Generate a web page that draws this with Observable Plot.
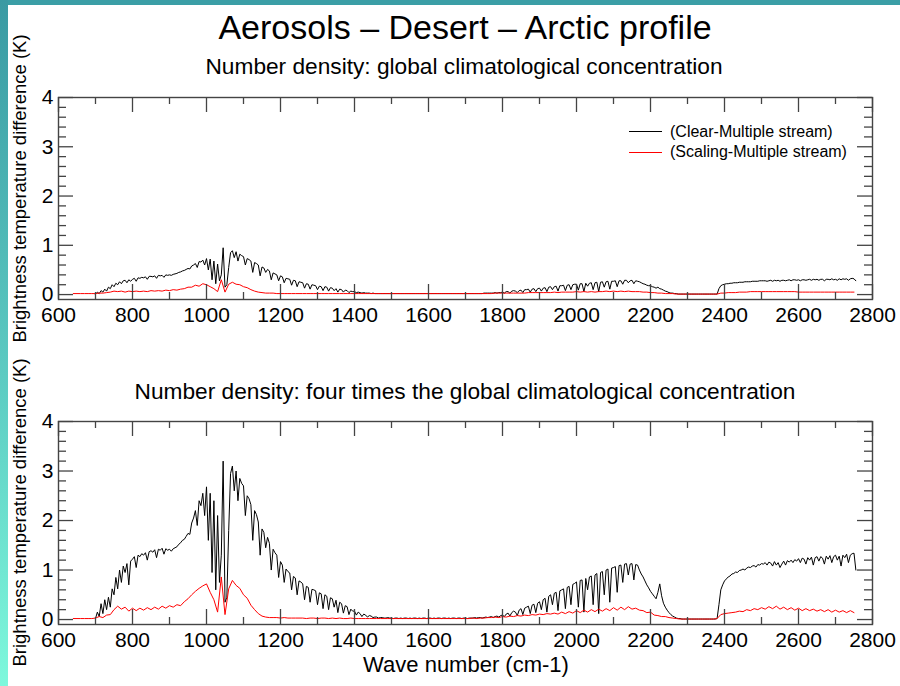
<!DOCTYPE html>
<html><head><meta charset="utf-8">
<script src="https://cdn.jsdelivr.net/npm/d3@7"></script>
<script src="https://cdn.jsdelivr.net/npm/@observablehq/plot@0.6"></script>
<style>
body{margin:0;background:#fff;}
#page{position:relative;width:900px;height:686px;overflow:hidden;background:#fff;font-family:"Liberation Sans",Arial,Helvetica,sans-serif;color:#000;}
#bandTop{position:absolute;left:0;top:0;width:900px;height:5px;background:#3b9ea6;}
#bandLeft{position:absolute;left:0;top:0;width:8px;height:686px;background:linear-gradient(to bottom,#3a9aa3,#5ccbc2 55%,#7ef8dc);}
.t{position:absolute;line-height:1;white-space:nowrap;transform:translateX(-50%);}
.leg{position:absolute;line-height:1;white-space:nowrap;font-size:16px;}
.legline{position:absolute;height:1px;width:33px;}
.panel{position:absolute;left:0;}
</style></head>
<body>
<div id="page">
  <div id="bandTop"></div>
  <div id="bandLeft"></div>
  <div class="t" style="left:465px;top:10px;font-size:34px;">Aerosols – Desert – Arctic profile</div>
  <div class="t" style="left:464px;top:55px;font-size:22.7px;">Number density: global climatological concentration</div>
  <div class="t" style="left:465px;top:380px;font-size:22.7px;">Number density: four times the global climatological concentration</div>
  <div class="t" style="left:466px;top:654px;font-size:22px;">Wave number (cm-1)</div>
  <div id="p1" class="panel" style="top:0px;"></div>
  <div id="p2" class="panel" style="top:330px;"></div>
  <div class="legline" style="left:629px;top:131px;background:#000;"></div>
  <div class="leg" style="left:670px;top:123.5px;">(Clear-Multiple stream)</div>
  <div class="legline" style="left:629px;top:152px;background:#ff0000;"></div>
  <div class="leg" style="left:670px;top:144px;">(Scaling-Multiple stream)</div>
</div>
<script>
// ---- tick values ----
const xTicks = [600, 800, 1000, 1200, 1400, 1600, 1800, 2000, 2200, 2400, 2600, 2800];
const xMinorTicks = [700, 900, 1100, 1300, 1500, 1700, 1900, 2100, 2300, 2500, 2700];
const yTicks = [0, 1, 2, 3, 4];
const yMinorTicks = [0.2,0.4,0.6,0.8,1.2,1.4,1.6,1.8,2.2,2.4,2.6,2.8,3.2,3.4,3.6,3.8];
const yLabel = "Brightness temperature difference (K)";

// ---- sampling of the spectra (wave number, cm-1) ----
const BLACK_START = 700, BLACK_STEP = 5;   // Clear-Multiple stream
const RED_START = 640, RED_STEP = 10;      // Scaling-Multiple stream

// top panel: global climatological concentration
const blackTop = [
0.01,0.05,0.02,0.08,0.05,0.11,0.07,0.15,0.12,0.2,0.16,0.23,0.2,0.26,0.22,0.28,0.29,0.24,0.3,0.27,
0.31,0.33,0.27,0.34,0.33,0.35,0.34,0.36,0.31,0.37,0.37,0.36,0.38,0.33,0.39,0.38,0.39,0.35,0.4,0.39,
0.4,0.39,0.41,0.42,0.43,0.45,0.46,0.48,0.49,0.51,0.53,0.52,0.58,0.6,0.63,0.55,0.67,0.66,0.7,0.6,
0.73,0.5,0.72,0.3,0.68,0.22,0.62,0.28,0.4,0.95,0.15,0.2,0.55,0.85,0.89,0.75,0.87,0.68,0.82,0.79,
0.77,0.6,0.73,0.71,0.68,0.45,0.65,0.63,0.6,0.38,0.56,0.54,0.45,0.51,0.48,0.3,0.44,0.42,0.4,0.28,
0.38,0.36,0.24,0.33,0.32,0.31,0.19,0.29,0.28,0.16,0.26,0.25,0.24,0.13,0.22,0.21,0.11,0.2,0.19,0.18,
0.1,0.17,0.16,0.08,0.16,0.15,0.07,0.14,0.13,0.08,0.12,0.05,0.11,0.1,0.05,0.09,0.08,0.04,0.07,0.06,
0.06,0.04,0.05,0.04,0.03,0.04,0.03,0.03,0.03,0.02,0.03,0.02,0.02,0.02,0.02,0.02,0.02,0.02,0.02,0.02,
0.02,0.02,0.02,0.02,0.02,0.02,0.02,0.02,0.02,0.02,0.02,0.02,0.02,0.02,0.02,0.02,0.02,0.02,0.02,0.02,
0.02,0.02,0.02,0.02,0.02,0.02,0.02,0.02,0.02,0.02,0.02,0.02,0.02,0.02,0.02,0.02,0.02,0.02,0.02,0.02,
0.02,0.02,0.02,0.02,0.02,0.02,0.02,0.02,0.02,0.02,0.03,0.03,0.03,0.03,0.03,0.03,0.04,0.03,0.04,0.04,
0.05,0.03,0.06,0.06,0.03,0.07,0.08,0.07,0.04,0.08,0.09,0.04,0.1,0.1,0.11,0.05,0.11,0.12,0.06,0.12,
0.13,0.07,0.13,0.14,0.06,0.15,0.16,0.1,0.16,0.17,0.07,0.18,0.18,0.19,0.08,0.19,0.2,0.1,0.2,0.21,
0.21,0.09,0.22,0.22,0.06,0.23,0.17,0.23,0.24,0.1,0.24,0.25,0.06,0.25,0.26,0.15,0.26,0.27,0.11,0.27,
0.27,0.28,0.16,0.28,0.28,0.21,0.29,0.29,0.24,0.28,0.29,0.22,0.28,0.27,0.26,0.24,0.22,0.21,0.19,0.18,
0.18,0.16,0.15,0.13,0.15,0.12,0.11,0.09,0.07,0.06,0.04,0.03,0.03,0.02,0.02,0.01,0.01,0.01,0.01,0.01,
0.01,0.01,0.01,0.01,0.01,0.01,0.01,0.01,0.01,0.01,0.01,0.01,0.01,0.01,0.01,0.01,0.01,0.12,0.18,0.2,
0.21,0.22,0.22,0.23,0.23,0.24,0.24,0.24,0.25,0.25,0.25,0.26,0.26,0.26,0.26,0.27,0.27,0.27,0.27,0.28,
0.28,0.28,0.28,0.27,0.28,0.29,0.27,0.29,0.28,0.29,0.27,0.29,0.29,0.28,0.29,0.3,0.28,0.3,0.3,0.29,
0.3,0.28,0.3,0.3,0.29,0.3,0.31,0.29,0.31,0.3,0.31,0.29,0.31,0.31,0.28,0.31,0.31,0.3,0.32,0.3,
0.31,0.29,0.32,0.3,0.32,0.31,0.32,0.29,0.32,0.33,0.32,0.28
];
const redTop = [
0.02,0.02,0.02,0.02,0.02,0.02,0.02,0.03,0.03,0.04,
0.05,0.07,0.06,0.07,0.05,0.07,0.06,0.07,0.06,0.07,
0.06,0.08,0.07,0.08,0.07,0.09,0.08,0.1,0.09,0.11,
0.12,0.15,0.15,0.19,0.17,0.22,0.2,0.16,0.12,0.06,
0.3,0.05,0.21,0.25,0.21,0.2,0.16,0.14,0.1,0.07,
0.05,0.04,0.03,0.03,0.03,0.02,0.02,0.02,0.02,0.02,
0.02,0.02,0.02,0.02,0.02,0.02,0.02,0.02,0.02,0.02,
0.02,0.02,0.02,0.02,0.02,0.02,0.02,0.02,0.02,0.02,
0.02,0.02,0.02,0.02,0.02,0.02,0.02,0.02,0.02,0.02,
0.02,0.02,0.02,0.02,0.02,0.02,0.02,0.02,0.02,0.02,
0.02,0.02,0.02,0.02,0.02,0.02,0.02,0.02,0.02,0.02,
0.02,0.02,0.02,0.02,0.03,0.03,0.03,0.03,0.03,0.03,
0.03,0.03,0.03,0.04,0.04,0.04,0.04,0.04,0.04,0.04,
0.05,0.04,0.05,0.05,0.05,0.05,0.06,0.05,0.06,0.05,
0.06,0.05,0.06,0.06,0.07,0.06,0.07,0.06,0.07,0.06,
0.07,0.06,0.06,0.06,0.05,0.05,0.04,0.04,0.03,0.03,
0.02,0.02,0.02,0.01,0.01,0.01,0.01,0.01,0.01,0.01,
0.01,0.01,0.01,0.01,0.01,0.03,0.03,0.04,0.04,0.04,
0.05,0.05,0.05,0.06,0.06,0.06,0.06,0.06,0.06,0.06,
0.06,0.06,0.06,0.06,0.06,0.06,0.05,0.05,0.05,0.05,
0.05,0.05,0.05,0.05,0.05,0.05,0.05,0.05,0.05,0.05,
0.05,0.05
];

// bottom panel: four times the global climatological concentration
const blackBottom = [
0.02,0.15,0.06,0.32,0.12,0.4,0.2,0.45,0.25,0.62,0.5,0.85,0.62,1.0,0.75,1.08,0.95,1.13,0.7,1.18,
1.22,1.27,1.05,1.3,1.27,1.33,1.3,1.35,1.2,1.37,1.39,1.36,1.41,1.25,1.42,1.4,1.44,1.32,1.43,1.4,
1.42,1.38,1.43,1.45,1.47,1.52,1.55,1.6,1.62,1.68,1.74,1.72,1.95,2.05,2.2,1.9,2.4,2.3,2.55,2.1,
2.68,1.6,2.55,0.95,2.4,0.6,2.1,0.75,1.3,3.2,0.35,0.45,1.8,2.95,3.1,2.6,3.0,2.4,2.85,2.75,
2.7,2.1,2.5,2.44,2.32,1.6,2.2,2.12,1.97,1.3,1.83,1.76,1.45,1.66,1.54,1.0,1.42,1.35,1.3,0.85,
1.17,1.1,0.75,1.02,0.97,0.94,0.6,0.87,0.84,0.5,0.78,0.76,0.72,0.4,0.67,0.65,0.35,0.61,0.6,0.58,
0.3,0.54,0.52,0.22,0.5,0.47,0.2,0.44,0.42,0.25,0.39,0.14,0.35,0.32,0.13,0.28,0.26,0.1,0.21,0.17,
0.17,0.09,0.15,0.12,0.06,0.11,0.09,0.05,0.08,0.07,0.04,0.05,0.05,0.03,0.04,0.04,0.03,0.03,0.04,0.03,
0.03,0.02,0.03,0.03,0.02,0.03,0.02,0.03,0.03,0.02,0.03,0.02,0.03,0.03,0.02,0.03,0.02,0.03,0.03,0.02,
0.03,0.03,0.02,0.03,0.02,0.03,0.03,0.02,0.03,0.03,0.02,0.03,0.02,0.03,0.03,0.02,0.03,0.03,0.02,0.03,
0.03,0.02,0.03,0.03,0.03,0.04,0.03,0.04,0.04,0.03,0.04,0.05,0.04,0.05,0.06,0.04,0.06,0.07,0.05,0.08,
0.09,0.06,0.11,0.13,0.07,0.14,0.17,0.15,0.08,0.19,0.22,0.1,0.23,0.25,0.27,0.12,0.29,0.31,0.14,0.33,
0.36,0.2,0.4,0.43,0.15,0.47,0.5,0.3,0.53,0.55,0.18,0.58,0.6,0.62,0.22,0.65,0.67,0.3,0.71,0.73,
0.76,0.25,0.79,0.8,0.15,0.83,0.6,0.86,0.88,0.3,0.9,0.93,0.12,0.95,0.97,0.5,1.0,1.02,0.35,1.04,
1.05,1.07,0.55,1.09,1.1,0.75,1.12,1.13,0.9,1.12,1.13,0.8,1.11,1.1,1.0,0.92,0.86,0.78,0.7,0.64,
0.57,0.52,0.47,0.42,0.55,0.72,0.48,0.33,0.25,0.19,0.14,0.1,0.07,0.05,0.03,0.02,0.02,0.01,0.01,0.01,
0.01,0.01,0.01,0.01,0.01,0.01,0.01,0.01,0.01,0.01,0.01,0.01,0.01,0.01,0.01,0.01,0.02,0.3,0.6,0.7,
0.78,0.82,0.86,0.88,0.92,0.93,0.96,0.95,0.99,1.0,1.02,1.0,1.04,1.06,1.05,1.08,1.09,1.06,1.11,1.1,
1.13,1.12,1.15,1.1,1.16,1.14,1.08,1.17,1.1,1.15,1.05,1.12,1.18,1.1,1.19,1.16,1.2,1.15,1.21,1.18,
1.23,1.15,1.24,1.22,1.12,1.25,1.2,1.26,1.1,1.25,1.27,1.18,1.27,1.24,1.12,1.28,1.22,1.29,1.15,1.27,
1.3,1.2,1.28,1.08,1.3,1.25,1.32,1.15,1.3,1.33,1.34,1.0
];
const redBottom = [
0.02,0.02,0.02,0.02,0.02,0.02,0.03,0.06,0.04,0.09,
0.1,0.2,0.27,0.21,0.25,0.17,0.23,0.18,0.23,0.19,
0.24,0.2,0.25,0.21,0.27,0.23,0.28,0.25,0.3,0.28,
0.36,0.42,0.5,0.57,0.63,0.68,0.72,0.55,0.4,0.15,
0.86,0.1,0.62,0.79,0.69,0.63,0.5,0.43,0.29,0.2,
0.12,0.07,0.05,0.04,0.04,0.04,0.03,0.04,0.03,0.03,
0.03,0.03,0.03,0.02,0.03,0.03,0.02,0.03,0.03,0.02,
0.03,0.02,0.03,0.02,0.02,0.03,0.02,0.02,0.02,0.02,
0.02,0.02,0.02,0.02,0.02,0.02,0.02,0.02,0.02,0.02,
0.02,0.02,0.02,0.02,0.02,0.02,0.02,0.02,0.02,0.02,
0.02,0.02,0.02,0.02,0.02,0.02,0.02,0.02,0.03,0.02,
0.03,0.03,0.04,0.04,0.05,0.04,0.06,0.05,0.07,0.06,
0.08,0.07,0.09,0.08,0.1,0.09,0.11,0.1,0.12,0.11,
0.13,0.11,0.15,0.12,0.16,0.13,0.18,0.14,0.19,0.15,
0.2,0.16,0.21,0.17,0.22,0.18,0.24,0.19,0.25,0.2,
0.26,0.21,0.23,0.19,0.18,0.14,0.15,0.09,0.08,0.06,
0.06,0.04,0.03,0.02,0.01,0.01,0.01,0.01,0.01,0.01,
0.01,0.01,0.01,0.01,0.02,0.1,0.12,0.13,0.14,0.15,
0.17,0.16,0.2,0.18,0.22,0.2,0.24,0.21,0.26,0.22,
0.27,0.21,0.25,0.2,0.24,0.19,0.23,0.18,0.22,0.18,
0.21,0.17,0.2,0.16,0.2,0.15,0.19,0.15,0.18,0.14,
0.18,0.14
];

const FONT = '"Liberation Sans", Arial, Helvetica, sans-serif';
const AXIS = "#444";

function panel(black, red, {height, marginTop, marginBottom, labelDy}) {
  const marginLeft = 58, marginRight = 28, width = 900;
  const H = height - marginTop - marginBottom;
  const W = width - marginLeft - marginRight;
  const blackRows = black.map((v, i) => ({wn: BLACK_START + i * BLACK_STEP, bt: v}));
  const redRows = red.map((v, i) => ({wn: RED_START + i * RED_STEP, bt: v}));
  const major = 15, minorX = 7, minorY = 8;
  return Plot.plot({
    width, height, marginLeft, marginRight, marginTop, marginBottom,
    style: `background: transparent; overflow: visible; font-family: ${FONT}; color: #000;`,
    x: {domain: [600, 2800]},
    y: {domain: [-0.1, 4]},
    marks: [
      Plot.line(blackRows, {x: "wn", y: "bt", stroke: "#000", strokeWidth: 1}),
      Plot.line(redRows, {x: "wn", y: "bt", stroke: "#ff0000", strokeWidth: 1}),
      Plot.ruleX(xTicks, {stroke: AXIS, strokeWidth: 1.3, insetTop: H - major}),
      Plot.ruleX(xTicks, {stroke: AXIS, strokeWidth: 1.3, insetBottom: H - major}),
      Plot.ruleX(xMinorTicks, {stroke: AXIS, strokeWidth: 1.3, insetTop: H - minorX}),
      Plot.ruleX(xMinorTicks, {stroke: AXIS, strokeWidth: 1.3, insetBottom: H - minorX}),
      Plot.ruleY(yTicks, {stroke: AXIS, strokeWidth: 1.3, insetRight: W - major}),
      Plot.ruleY(yTicks, {stroke: AXIS, strokeWidth: 1.3, insetLeft: W - major}),
      Plot.ruleY(yMinorTicks, {stroke: AXIS, strokeWidth: 1.3, insetRight: W - minorY}),
      Plot.ruleY(yMinorTicks, {stroke: AXIS, strokeWidth: 1.3, insetLeft: W - minorY}),
      Plot.frame({stroke: AXIS, strokeWidth: 1.4}),
      Plot.axisX(xTicks, {tickSize: 0, tickPadding: 8, fontSize: 21, tickFormat: d => `${d}`, label: null, fill: "#000"}),
      Plot.axisY(yTicks, {tickSize: 0, tickPadding: 5, fontSize: 21, tickFormat: d => `${d}`, label: null, fill: "#000"}),
      Plot.text([yLabel], {frameAnchor: "left", textAnchor: "middle", rotate: -90, dx: -38, dy: labelDy, fontSize: 18.5, fill: "#000"})
    ]
  });
}

document.getElementById("p1").append(panel(blackTop, redTop, {height: 330, marginTop: 97, marginBottom: 31, labelDy: -10}));
document.getElementById("p2").append(panel(blackBottom, redBottom, {height: 356, marginTop: 91, marginBottom: 62, labelDy: -10.5}));
</script>
</body></html>
